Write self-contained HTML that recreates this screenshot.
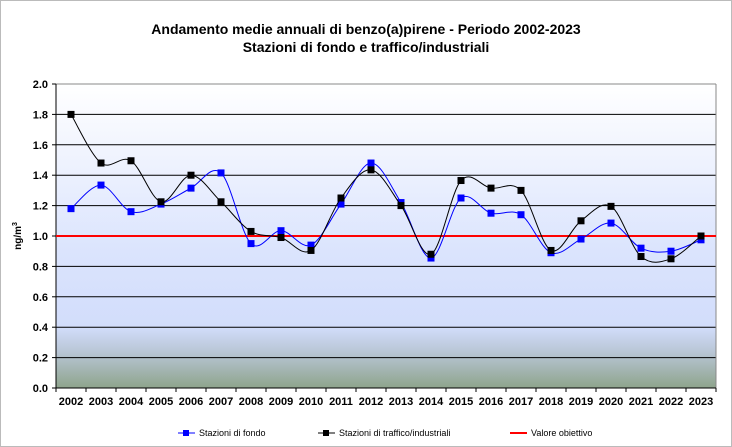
<!DOCTYPE html><html><head><style>body{margin:0;background:#fff}svg{display:block;font-family:"Liberation Sans",Arial,sans-serif}</style></head><body>
<svg width="732" height="447" viewBox="0 0 732 447">
<defs><linearGradient id="g" x1="0" y1="0" x2="0" y2="1">
<stop offset="0" stop-color="#ffffff"/><stop offset="0.55" stop-color="#dbe4fd"/><stop offset="0.8" stop-color="#d2ddfb"/><stop offset="0.88" stop-color="#b9c6d6"/><stop offset="1" stop-color="#8ea48c"/></linearGradient></defs>
<rect x="0.5" y="0.5" width="731" height="446" fill="#fff" stroke="#bbb"/>
<text x="366" y="34" text-anchor="middle" font-size="14" font-weight="bold">Andamento medie annuali di benzo(a)pirene - Periodo 2002-2023</text>
<text x="366" y="52" text-anchor="middle" font-size="14" font-weight="bold">Stazioni di fondo e traffico/industriali</text>
<rect x="56" y="84" width="660" height="304" fill="url(#g)"/>
<g id="grid" stroke="#000" stroke-width="1"></g>
<line x1="56" y1="84" x2="716" y2="84" stroke="#888"/>
<line x1="716" y1="84" x2="716" y2="388" stroke="#888"/>
<line x1="56" y1="84" x2="56" y2="388" stroke="#000"/>
<line x1="56" y1="388" x2="716" y2="388" stroke="#000"/>
<g id="yl" font-size="11" font-weight="bold" text-anchor="end"></g>
<g id="xl" font-size="11" font-weight="bold" text-anchor="middle"></g>
<text transform="translate(21,236) rotate(-90)" text-anchor="middle" font-size="10" font-weight="bold">ng/m<tspan dy="-4" font-size="7">3</tspan></text>
<line x1="56" y1="236" x2="716" y2="236" stroke="#f00" stroke-width="2"/>
<g id="s"></g>
<g font-size="9">
<line x1="178" y1="433" x2="195" y2="433" stroke="#00f"/><rect x="183" y="430" width="6" height="6" fill="#00f"/>
<text x="199" y="436">Stazioni di fondo</text>
<line x1="318" y1="433" x2="335" y2="433" stroke="#000"/><rect x="323" y="430" width="6" height="6" fill="#000"/>
<text x="339" y="436">Stazioni di traffico/industriali</text>
<line x1="510" y1="433" x2="527" y2="433" stroke="#f00" stroke-width="2"/>
<text x="531" y="436">Valore obiettivo</text>
</g>
</svg>
<script>
const ns="http://www.w3.org/2000/svg";
function el(p,t,a,txt){const e=document.createElementNS(ns,t);for(const k in a)e.setAttribute(k,a[k]);if(txt)e.textContent=txt;document.getElementById(p).appendChild(e);return e;}
const Y=v=>388-152*v, X=i=>71+30*i;
for(let k=0;k<=10;k++){const v=k*0.2,y=Y(v);if(k>0&&k<10)el("grid","line",{x1:56,y1:y,x2:716,y2:y});el("grid","line",{x1:52,y1:y,x2:56,y2:y});el("yl","text",{x:48,y:y+4},v.toFixed(1));}
for(let i=0;i<22;i++){el("grid","line",{x1:56+30*i,y1:388,x2:56+30*i,y2:392});el("xl","text",{x:X(i),y:405},String(2002+i));}
el("grid","line",{x1:716,y1:388,x2:716,y2:392});
const b=[1.18,1.335,1.16,1.21,1.315,1.415,0.95,1.035,0.94,1.21,1.48,1.22,0.855,1.25,1.15,1.14,0.89,0.98,1.085,0.92,0.90,0.975];
const k=[1.80,1.48,1.495,1.225,1.40,1.225,1.03,0.99,0.905,1.25,1.435,1.20,0.88,1.365,1.315,1.30,0.905,1.10,1.195,0.865,0.85,1.0];
function path(d){const p=d.map((v,i)=>[X(i),Y(v)]);let s="M"+p[0];for(let i=0;i<p.length-1;i++){const a=p[Math.max(0,i-1)],b0=p[i],c=p[i+1],e=p[Math.min(p.length-1,i+2)];const t=1/6;s+=` C${b0[0]+(c[0]-a[0])*t},${b0[1]+(c[1]-a[1])*t} ${c[0]-(e[0]-b0[0])*t},${c[1]-(e[1]-b0[1])*t} ${c[0]},${c[1]}`;}return s;}
function ser(d,c){el("s","path",{d:path(d),fill:"none",stroke:c,"stroke-width":1});d.forEach((v,i)=>el("s","rect",{x:X(i)-3.5,y:Y(v)-3.5,width:7,height:7,fill:c}));}
ser(b,"#00f");ser(k,"#000");
</script>
</body></html>
